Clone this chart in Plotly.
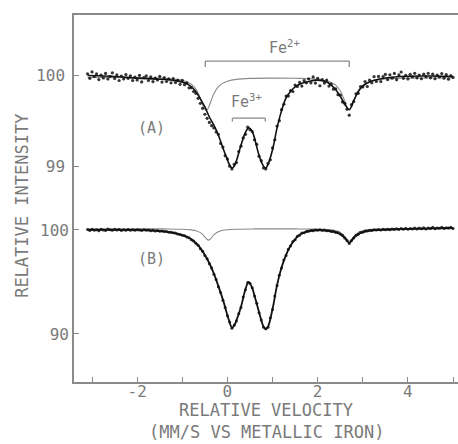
import plotly.graph_objects as go

# ---------------- data ----------------
VEL_START = -3.1          # first channel velocity, mm/s
VEL_STEP = 0.05           # channel width, mm/s

# Spectrum (A): measured points, relative intensity (%)
A_DATA = [100.015, 99.965, 100.035, 99.984, 100.013, 99.951, 100.0, 99.969, 100.018, 99.957,
          99.986, 100.025, 99.964, 100.002, 99.941, 99.99, 99.958, 100.006, 99.965, 99.993,
          99.941, 99.979, 99.947, 99.996, 99.925, 99.973, 99.992, 99.941, 99.98, 99.929,
          99.968, 99.946, 99.985, 99.923, 99.972, 99.93, 99.958, 99.915, 99.962, 99.918,
          99.944, 99.899, 99.943, 99.895, 99.915, 99.86, 99.862, 99.82, 99.80, 99.745,
          99.69, 99.635, 99.57, 99.525, 99.48, 99.445, 99.42, 99.375, 99.35, 99.25,
          99.21, 99.115, 99.08, 99.0, 98.97, 99.02, 99.04, 99.16, 99.22, 99.31,
          99.35, 99.43, 99.40, 99.38, 99.29, 99.24, 99.11, 99.06, 98.98, 98.97,
          99.03, 99.07, 99.20, 99.29, 99.44, 99.50, 99.62, 99.68, 99.77, 99.77,
          99.83, 99.82, 99.89, 99.875, 99.92, 99.88, 99.94, 99.915, 99.96, 99.915,
          99.98, 99.913, 99.965, 99.883, 99.95, 99.913, 99.945, 99.88, 99.90, 99.845,
          99.85, 99.785, 99.78, 99.705, 99.69, 99.625, 99.56, 99.675, 99.71, 99.795,
          99.80, 99.875, 99.87, 99.93, 99.875, 99.945, 99.915, 99.983, 99.93, 99.985,
          99.93, 99.984, 100.008, 99.951, 100.004, 99.966, 100.018, 99.95, 100.002, 100.034,
          99.965, 99.997, 99.958, 100.009, 99.98, 100.02, 99.97, 100.0, 99.96, 100.01,
          99.98, 100.02, 99.97, 100.01, 99.96, 99.999, 99.978, 100.017, 99.966, 100.005,
          99.955, 99.994, 99.974]

# Spectrum (B): measured points, relative intensity (%)
B_DATA = [100.05, 99.95, 100.08, 99.98, 100.03, 99.93, 100.06, 100.0, 99.94, 100.1,
          100.02, 99.96, 100.07, 99.99, 100.04, 99.95, 100.02, 99.97, 100.05, 99.98,
          100.01, 99.96, 100.03, 99.99, 99.95, 100.02, 99.97, 99.99, 99.93, 99.97,
          99.9, 99.94, 99.88, 99.9, 99.84, 99.85, 99.78, 99.79, 99.72, 99.7,
          99.6, 99.57, 99.48, 99.44, 99.33, 99.24, 99.07, 98.94, 98.72, 98.52,
          98.2, 97.95, 97.55, 97.22, 96.75, 96.33, 95.75, 95.24, 94.55, 93.98,
          93.25, 92.55, 91.75, 91.15, 90.55, 90.85, 91.25, 91.95, 92.55, 93.55,
          94.25, 94.95, 94.85, 94.45, 93.65, 92.95, 92.05, 91.35, 90.65, 90.5,
          90.65, 91.55, 92.35, 93.65, 94.65, 95.65, 96.35, 97.1, 97.55, 98.15,
          98.45, 98.9, 99.05, 99.4, 99.5, 99.7, 99.72, 99.86, 99.87, 99.95,
          99.93, 100.0, 99.97, 100.03, 99.96, 99.99, 99.92, 99.93, 99.85, 99.84,
          99.76, 99.72, 99.6, 99.5, 99.22, 98.98, 98.7, 98.98, 99.22, 99.48,
          99.58, 99.75, 99.78, 99.9, 99.9, 99.98, 99.95, 100.03, 99.99, 100.05,
          100.0, 100.06, 100.02, 100.08, 100.01, 100.1, 100.04, 100.12, 100.05, 100.13,
          100.07, 100.16, 100.08, 100.15, 100.1, 100.2, 100.09, 100.18, 100.12, 100.22,
          100.1, 100.2, 100.14, 100.25, 100.12, 100.2, 100.16, 100.27, 100.13, 100.22,
          100.18, 100.25, 100.15]

# Fitted envelope of (A)
A_FIT_V = [-3.1, -2.5, -2.0, -1.5, -1.2, -1.0, -0.9, -0.8, -0.7, -0.6, -0.5, -0.4, -0.3,
           -0.2, -0.1, 0.0, 0.05, 0.1, 0.15, 0.2, 0.3, 0.4, 0.47, 0.55, 0.6, 0.7, 0.8,
           0.85, 0.9, 1.0, 1.1, 1.2, 1.3, 1.4, 1.5, 1.6, 1.8, 2.0, 2.2, 2.3, 2.4, 2.5,
           2.6, 2.7, 2.8, 2.9, 3.0, 3.2, 3.5, 4.0, 4.5, 5.0]
A_FIT = [99.995, 99.984, 99.967, 99.955, 99.942, 99.923, 99.905, 99.872, 99.82, 99.74,
         99.65, 99.54, 99.45, 99.34, 99.2, 99.07, 99.01, 98.98, 99.0, 99.06, 99.23, 99.37,
         99.42, 99.38, 99.31, 99.12, 99.0, 98.98, 99.02, 99.18, 99.42, 99.61, 99.75, 99.82,
         99.87, 99.9, 99.93, 99.945, 99.925, 99.89, 99.84, 99.77, 99.68, 99.62, 99.72,
         99.82, 99.88, 99.935, 99.968, 99.988, 99.99, 99.984]

# Fe2+ component of (A)
A_FE2_V = [-3.1, -2.0, -1.5, -1.2, -1.0, -0.9, -0.8, -0.7, -0.6, -0.55, -0.5, -0.47, -0.44,
           -0.4, -0.35, -0.3, -0.2, -0.1, 0.0, 0.2, 0.5, 1.0, 1.5, 2.0, 2.3, 2.4, 2.5, 2.6,
           2.65, 2.7, 2.75, 2.8, 2.9, 3.0, 3.1, 3.4, 4.0, 5.0]
A_FE2 = [99.973, 99.971, 99.967, 99.956, 99.943, 99.926, 99.90, 99.848, 99.748, 99.68,
         99.626, 99.615, 99.625, 99.667, 99.735, 99.795, 99.873, 99.912, 99.933, 99.953,
         99.964, 99.967, 99.965, 99.953, 99.92, 99.89, 99.828, 99.715, 99.653, 99.625,
         99.653, 99.715, 99.828, 99.89, 99.92, 99.953, 99.967, 99.971]

# Fitted envelope of (B)
B_FIT_V = [-3.1, -2.0, -1.8, -1.6, -1.4, -1.2, -1.0, -0.9, -0.8, -0.7, -0.6, -0.5, -0.4,
           -0.3, -0.2, -0.1, 0.0, 0.05, 0.1, 0.15, 0.2, 0.3, 0.4, 0.47, 0.55, 0.6, 0.7,
           0.8, 0.85, 0.9, 1.0, 1.1, 1.2, 1.3, 1.4, 1.5, 1.6, 1.7, 1.8, 2.0, 2.2, 2.4,
           2.5, 2.6, 2.7, 2.8, 2.9, 3.0, 3.2, 3.5, 4.0, 4.5, 5.0]
B_FIT = [100.0, 100.0, 99.98, 99.93, 99.86, 99.73, 99.5, 99.35, 99.1, 98.75, 98.25, 97.6,
         96.8, 95.8, 94.6, 93.3, 91.8, 91.1, 90.6, 90.8, 91.3, 92.6, 94.3, 95.0, 94.4,
         93.7, 92.1, 90.7, 90.45, 90.7, 92.4, 94.7, 96.4, 97.6, 98.5, 99.1, 99.55, 99.75,
         99.9, 99.99, 99.94, 99.8, 99.62, 99.25, 98.75, 99.25, 99.6, 99.8, 99.97, 100.03,
         100.1, 100.15, 100.2]

# Fe2+ component of (B)
B_FE2_V = [-3.1, -2.0, -1.4, -1.0, -0.8, -0.7, -0.6, -0.55, -0.5, -0.45, -0.42, -0.39,
           -0.35, -0.3, -0.25, -0.2, -0.1, 0.0, 0.2, 0.6, 1.0, 1.5, 2.0, 2.3, 2.5, 2.6,
           2.65, 2.7, 2.75, 2.8, 2.9, 3.1, 3.5, 4.0, 5.0]
B_FE2 = [100.117, 100.113, 100.10, 100.067, 100.005, 99.925, 99.743, 99.57, 99.32, 99.076,
         99.02, 99.076, 99.267, 99.526, 99.714, 99.835, 99.964, 100.024, 100.074, 100.10,
         100.104, 100.10, 100.077, 100.005, 99.764, 99.365, 99.075, 98.92, 99.075, 99.365,
         99.764, 100.005, 100.089, 100.108, 100.116]

FE2_LINES = [-0.49, 2.7]   # Fe2+ doublet line positions (mm/s)
FE3_LINES = [0.11, 0.84]   # Fe3+ doublet line positions (mm/s)

X_TICKS = [-2, 0, 2, 4]
A_TICKS = [100, 99]
B_TICKS = [100, 90]

# ---------------- figure ----------------
vel_a = [round(VEL_START + VEL_STEP * i, 3) for i in range(len(A_DATA))]
vel_b = [round(VEL_START + VEL_STEP * i, 3) for i in range(len(B_DATA))]

INK = "#111111"
GREY = "#8a8a8a"
TXT = "#7a7a7a"
FONT = "DejaVu Sans Mono"

fig = go.Figure()
# (A)
fig.add_trace(go.Scatter(x=A_FE2_V, y=A_FE2, mode="lines", yaxis="y",
                         line=dict(color=GREY, width=1.1, shape="spline"), hoverinfo="skip"))
fig.add_trace(go.Scatter(x=A_FIT_V, y=A_FIT, mode="lines", yaxis="y",
                         line=dict(color=INK, width=1.6, shape="spline")))
fig.add_trace(go.Scatter(x=vel_a, y=A_DATA, mode="markers", yaxis="y",
                         marker=dict(color=INK, size=3.2, opacity=0.85)))
# (B)
fig.add_trace(go.Scatter(x=B_FE2_V, y=B_FE2, mode="lines", yaxis="y2",
                         line=dict(color=GREY, width=1.1, shape="spline"), hoverinfo="skip"))
fig.add_trace(go.Scatter(x=B_FIT_V, y=B_FIT, mode="lines", yaxis="y2",
                         line=dict(color=INK, width=1.8, shape="spline")))
fig.add_trace(go.Scatter(x=vel_b, y=B_DATA, mode="markers", yaxis="y2",
                         marker=dict(color=INK, size=3, opacity=0.85)))

axis_font = dict(family=FONT, size=17, color=TXT)
tick_font = dict(family=FONT, size=16, color=TXT)

fig.update_layout(
    width=458, height=444,
    margin=dict(l=74, r=0, t=15, b=62),
    paper_bgcolor="white", plot_bgcolor="white",
    showlegend=False,
    font=axis_font,
    xaxis=dict(range=[-3.40, 5.11], tickvals=X_TICKS, ticktext=[str(t) for t in X_TICKS],
               ticks="inside", ticklen=5, tickwidth=1.2, tickcolor=GREY,
               minor=dict(ticks="inside", ticklen=5, tickwidth=1.2, tickcolor=GREY,
                          tick0=0, dtick=1),
               showline=True, linecolor=GREY, linewidth=1.5, mirror=True,
               showgrid=False, zeroline=False, tickfont=tick_font, ticklabelstandoff=-6),
    yaxis=dict(range=[96.63, 100.66], tickvals=A_TICKS, ticktext=[str(t) for t in A_TICKS],
               ticks="inside", ticklen=5, tickwidth=1.2, tickcolor=GREY,
               showline=True, linecolor=GREY, linewidth=1.5,
               showgrid=False, zeroline=False, tickfont=tick_font, ticklabelstandoff=4),
    yaxis2=dict(range=[85.38, 120.67], overlaying="y", side="left",
                tickvals=B_TICKS, ticktext=[str(t) for t in B_TICKS],
                ticks="inside", ticklen=5, tickwidth=1.2, tickcolor=GREY,
                showline=False, showgrid=False, zeroline=False,
                tickfont=tick_font, ticklabelstandoff=4),
)

# brackets marking the doublets in (A)
def bracket(x0, x1, ybar, yend):
    for xa, xb, ya, yb in [(x0, x1, ybar, ybar), (x0, x0, ybar, yend), (x1, x1, ybar, yend)]:
        fig.add_shape(type="line", xref="x", yref="y", x0=xa, x1=xb, y0=ya, y1=yb,
                      line=dict(color=GREY, width=1.3))

bracket(FE2_LINES[0], FE2_LINES[1], 100.154, 100.09)
bracket(FE3_LINES[0], FE3_LINES[1], 99.527, 99.49)

fig.add_annotation(x=sum(FE2_LINES) / 2 + 0.15, y=100.31, xref="x", yref="y",
                   text="Fe<sup>2+</sup>", showarrow=False,
                   font=dict(family=FONT, size=15, color=TXT))
fig.add_annotation(x=sum(FE3_LINES) / 2 - 0.05, y=99.72, xref="x", yref="y",
                   text="Fe<sup>3+</sup>", showarrow=False,
                   font=dict(family=FONT, size=15, color=TXT))

fig.add_annotation(x=0.1615, y=0.722, xref="paper", yref="paper", text="(A)",
                   showarrow=False, font=dict(family=FONT, size=15, color=TXT))
fig.add_annotation(x=0.1615, y=0.305, xref="paper", yref="paper", text="(B)",
                   showarrow=False, font=dict(family=FONT, size=15, color=TXT))

fig.add_annotation(x=0.5, y=-0.0763, xref="paper", yref="paper", text="RELATIVE VELOCITY",
                   showarrow=False, xanchor="center", yanchor="middle", font=axis_font)
fig.add_annotation(x=0.5, y=-0.136, xref="paper", yref="paper",
                   text="(MM/S VS METALLIC IRON)",
                   showarrow=False, xanchor="center", yanchor="middle", font=axis_font)
fig.add_annotation(x=-0.1354, y=0.48, xref="paper", yref="paper", text="RELATIVE INTENSITY",
                   textangle=-90, showarrow=False, xanchor="center", yanchor="middle",
                   font=axis_font)

fig.write_html("out.html")
